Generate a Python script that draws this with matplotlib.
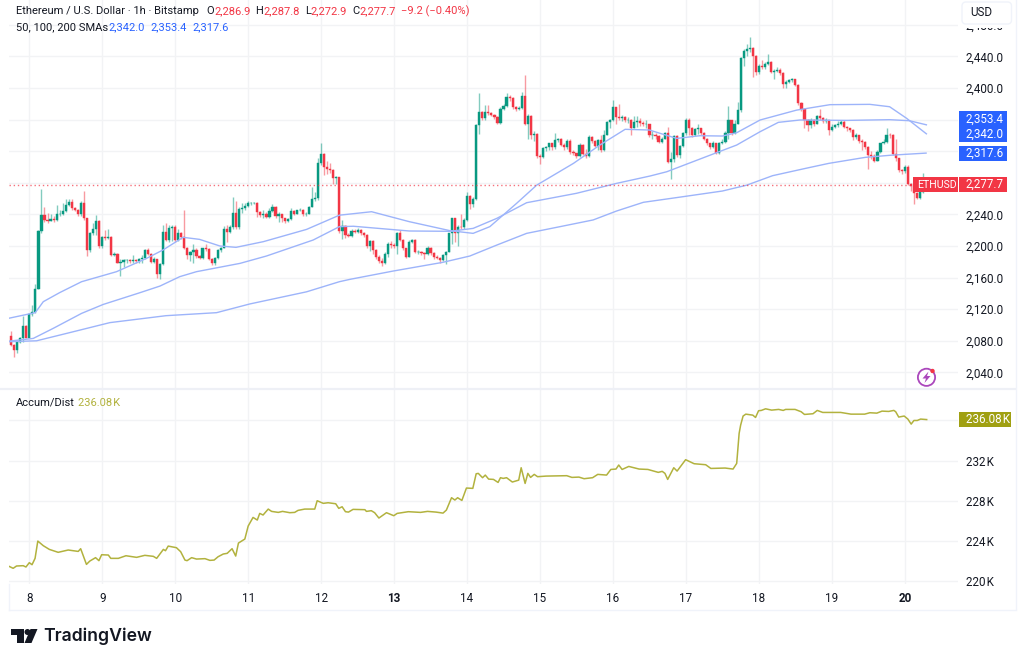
import numpy as np
import matplotlib
matplotlib.use('Agg')
import matplotlib.pyplot as plt
from matplotlib.patches import Rectangle, FancyBboxPatch, Circle, Polygon
from matplotlib.ticker import FuncFormatter

plt.rcParams['font.family'] = ['Roboto', 'DejaVu Sans']

# hourly bars, hour 0 is the start of day 8
first_open = 2086.5
closes = [2075, 2068, 2079, 2083, 2099, 2084,
    2114, 2116, 2145, 2219, 2239, 2233, 2232, 2234, 2233, 2240,
    2240, 2244, 2252, 2256, 2248, 2246, 2240, 2255, 2235, 2195,
    2216, 2222, 2232, 2200, 2212, 2210, 2212, 2189, 2190, 2179,
    2180, 2182, 2182, 2181, 2182, 2181, 2183, 2185, 2195, 2190,
    2180, 2183, 2165, 2177, 2218, 2207, 2223, 2224, 2207, 2216,
    2212, 2198, 2188, 2192, 2195, 2187, 2185, 2197, 2196, 2184,
    2178, 2185, 2195, 2198, 2222, 2218, 2224, 2242, 2224, 2247,
    2248, 2251, 2255, 2255, 2255, 2243, 2239, 2241, 2237, 2244,
    2250, 2238, 2240, 2235, 2232, 2234, 2244, 2241, 2245, 2246,
    2241, 2241, 2250, 2259, 2261, 2305, 2316.5, 2300, 2298, 2296,
    2286, 2287, 2219, 2225, 2214, 2213, 2219, 2218, 2220, 2217,
    2214.5, 2200, 2206, 2195, 2186.5, 2181, 2178, 2190, 2203, 2201,
    2200, 2216, 2208, 2197, 2186.5, 2205.5, 2207.6, 2193, 2193, 2191.5,
    2190, 2198, 2190.7, 2186.5, 2184.4, 2182, 2188.6, 2193, 2216, 2235,
    2216, 2224.5, 2224, 2233, 2263, 2253, 2260, 2353, 2370, 2361.6,
    2370, 2368, 2366, 2363, 2356, 2374, 2377, 2388, 2387, 2375.5,
    2374, 2375, 2390, 2355, 2365, 2340, 2342, 2314, 2313, 2323.6,
    2325, 2330, 2325, 2334, 2335.4, 2328, 2325, 2333, 2319.4, 2317.3,
    2314, 2328, 2317, 2314, 2338.4, 2333, 2326.6, 2334, 2321.5, 2340.5,
    2357, 2359.5, 2375.5, 2363.7, 2361.6, 2363, 2359.5, 2360, 2350, 2357,
    2358, 2356, 2354, 2354, 2340.5, 2341, 2339, 2332, 2336, 2342.6,
    2306.7, 2309.7, 2339, 2315, 2326, 2342.6, 2360, 2350, 2340, 2347.6,
    2349, 2342.6, 2336, 2330, 2325, 2330, 2318, 2330, 2332, 2342.6,
    2359.5, 2342.6, 2355, 2372, 2437.5, 2447, 2449, 2451, 2440.5, 2420.6,
    2427.8, 2426, 2431, 2433, 2420.6, 2422, 2423, 2418.5, 2405, 2408,
    2410, 2411, 2403.8, 2380.6, 2374, 2359.5, 2353, 2359.5, 2355, 2364.5,
    2361.6, 2358.6, 2359, 2346.8, 2351, 2353, 2355, 2357.4, 2351, 2349,
    2346.8, 2338.4, 2340.5, 2333.3, 2332, 2325.7, 2315, 2313.9, 2308, 2319.4,
    2330, 2332, 2341, 2340, 2317, 2311, 2296, 2295, 2300.4, 2279,
    2276, 2266.6, 2261, 2268.7, 2282, 2277.7]
highs = [2092, 2076, 2081, 2085, 2112, 2100,
    2115, 2125, 2152, 2220, 2272, 2250, 2242, 2241, 2238, 2252,
    2246, 2254, 2260, 2259, 2259, 2250, 2247, 2257, 2270, 2236,
    2218, 2229, 2239, 2233, 2213, 2220, 2222, 2213, 2193, 2191,
    2183, 2183, 2184, 2184, 2189, 2184, 2185, 2188, 2196, 2197,
    2191, 2186, 2184, 2178, 2226, 2229, 2226, 2226, 2226, 2221,
    2218, 2245, 2199, 2194, 2203, 2197, 2189, 2198, 2203, 2197,
    2185, 2186, 2196, 2199, 2225, 2226, 2226, 2262, 2257, 2250,
    2254, 2254, 2257, 2256, 2256, 2256, 2244, 2245, 2243, 2248,
    2253, 2251, 2243, 2241, 2236, 2235, 2248, 2245, 2246, 2248,
    2247, 2243, 2251, 2275, 2268, 2311, 2330, 2318, 2307, 2305,
    2297, 2289, 2287, 2233, 2226, 2216, 2221, 2222, 2223, 2221,
    2218, 2215, 2208, 2208, 2196, 2188, 2185, 2192, 2205, 2206,
    2204, 2218, 2220, 2209, 2198, 2208, 2209, 2209, 2195, 2194,
    2192, 2200, 2199, 2192, 2188, 2186, 2190, 2194, 2217, 2236,
    2236, 2226, 2241, 2236, 2268, 2264, 2262, 2355, 2394, 2371,
    2378, 2378, 2369, 2367, 2364, 2376, 2380, 2394, 2391, 2388,
    2377, 2377, 2395, 2416, 2367, 2366, 2345, 2343, 2316, 2325,
    2327, 2331, 2331, 2343, 2337, 2337, 2330, 2335, 2336, 2322,
    2318, 2330, 2329, 2323, 2340, 2339, 2334, 2336, 2341, 2347,
    2358, 2361, 2385, 2376, 2380, 2366, 2364, 2363, 2361, 2364,
    2364, 2362, 2358, 2360, 2355, 2345, 2343, 2340, 2338, 2344,
    2351, 2319, 2341, 2340, 2328, 2344, 2362, 2362, 2351, 2349,
    2354.4, 2350, 2344, 2337, 2331, 2333, 2331, 2332, 2335, 2346,
    2377, 2360, 2360, 2382.7, 2439, 2450, 2456, 2465, 2452, 2442,
    2430, 2435, 2433, 2442.6, 2434, 2424, 2426, 2425, 2420, 2410,
    2412, 2413, 2412, 2405, 2382, 2375, 2361, 2362, 2361, 2366,
    2374, 2363, 2362, 2360, 2354, 2355, 2358, 2359, 2359, 2352,
    2350, 2348, 2343, 2341, 2335, 2333, 2327, 2320, 2316, 2321,
    2331, 2335, 2349.8, 2343, 2342, 2336, 2312, 2298, 2303, 2302,
    2280, 2277, 2268, 2270, 2293, 2287.8]
lows = [2073, 2060, 2064, 2077, 2078, 2083,
    2083, 2112, 2115, 2145, 2216, 2231, 2229, 2232, 2230, 2232,
    2238, 2239, 2243, 2251, 2245, 2244, 2238, 2238, 2233, 2187,
    2193, 2214, 2214, 2198, 2198, 2208, 2209, 2187, 2187, 2178,
    2162, 2174, 2178, 2179, 2178, 2179, 2179, 2179, 2183, 2188,
    2178, 2178, 2159, 2158, 2176, 2206, 2205, 2206, 2205, 2206,
    2209, 2196, 2184, 2181, 2178, 2185, 2183, 2184, 2194, 2182,
    2176, 2176, 2184, 2193, 2197, 2205, 2216, 2222, 2222, 2222,
    2242, 2245, 2249, 2252, 2253, 2237, 2237, 2236, 2235, 2236,
    2243, 2236, 2231, 2231, 2229, 2231, 2233, 2239, 2240, 2244,
    2238, 2238, 2240, 2249, 2257, 2258, 2303, 2290, 2291, 2292,
    2278, 2278, 2216, 2209, 2210, 2211, 2212, 2216, 2216, 2214,
    2212, 2198, 2194, 2190, 2184, 2178, 2175, 2177, 2186, 2198,
    2198, 2190, 2206, 2195, 2185, 2186, 2204, 2191, 2190, 2189,
    2183, 2189, 2189, 2184, 2183, 2179, 2181, 2177, 2192, 2202,
    2205, 2200, 2222, 2222, 2232, 2247, 2250, 2258, 2342, 2360,
    2360, 2366, 2364, 2361, 2355, 2355, 2372, 2376, 2384, 2374,
    2371, 2372, 2373, 2353, 2336, 2335, 2333, 2312, 2304, 2311,
    2320, 2322, 2322, 2323, 2332, 2326, 2322, 2323, 2317, 2315,
    2311, 2313, 2315, 2312, 2313, 2331, 2325, 2322, 2319, 2320,
    2340, 2350, 2358, 2355, 2360, 2358, 2357, 2356, 2341, 2349,
    2351, 2352, 2352, 2350, 2338, 2336, 2336, 2330, 2330, 2335,
    2305, 2285, 2306, 2313, 2312, 2325, 2341, 2340, 2338, 2339,
    2342, 2341, 2334, 2328, 2323, 2324, 2316, 2317, 2329, 2331,
    2336, 2340, 2342, 2354, 2370, 2428, 2440, 2445, 2414, 2416,
    2418, 2424, 2424, 2429, 2419, 2411, 2420, 2417, 2400, 2399.5,
    2406, 2407, 2402, 2379, 2371, 2350, 2345, 2350, 2352, 2354,
    2360, 2356, 2356, 2340.5, 2345, 2349, 2351, 2353, 2349, 2345,
    2344, 2334, 2335, 2331, 2322, 2323, 2298, 2310, 2306, 2307,
    2318, 2329, 2331, 2337, 2315, 2307, 2294, 2291, 2293, 2277,
    2270, 2253, 2259, 2260, 2267, 2272.9]

# moving averages at their bends
sma50_hours = [-6.9, 1.9, 3, 4.6, 10, 17.2, 28.7, 38.6, 44, 50.6, 56, 62.7, 68, 77, 91.2, 102, 112.6, 125,
    138.4, 146, 151.5, 160.3, 166.9, 179, 187.7, 196, 204, 207.5, 213, 220.6, 228, 232.7,
    240.4, 252.4, 263.4, 276.5, 283, 288.6, 295.1]
sma50_values = [2108.4, 2115.6, 2121, 2129.5, 2141, 2154.8, 2167.5, 2184.4, 2195, 2211, 2208.4, 2200, 2198.3, 2205.5, 2221, 2239, 2243.4, 2230.8,
    2219.4, 2216, 2224.5, 2254, 2277, 2304.6, 2327.8, 2347.7, 2346.8, 2342.6, 2336.2, 2339.6, 2339.2, 2343.4,
    2359.5, 2372, 2378.9, 2379.3, 2376.3, 2361.6, 2342]
sma100_hours = [-6.4, 1.3, 7.9, 17.2, 24.3, 36.4, 43, 49.5, 55, 69.3, 78, 93.4, 102, 106.6, 125,
    138.4, 146, 153.8, 163.6, 180, 193.2, 204.2, 209.7, 226, 232.7, 240.4, 246.4, 253.5, 268.9, 283, 289.5, 295.1]
sma100_values = [2079.7, 2083, 2095.8, 2114.7, 2126, 2140.9, 2149.3, 2161.2, 2167.5, 2178, 2187.3, 2207.6, 2224.5, 2225, 2219,
    2218.6, 2222.3, 2235, 2254.8, 2266.7, 2279.3, 2288.6, 2294, 2318, 2327.8, 2344.7, 2356.5, 2359.5, 2359, 2359.9, 2358.6, 2353.4]
sma200_hours = [-6.4, 2.4, 12.3, 26.5, 45, 61.6, 72.5, 91.2, 102, 105.5, 119.7, 136, 144.9, 153.8, 163.6,
    174.6, 185.5, 193.2, 202, 215, 228, 236, 244.5, 255.4, 263, 275, 283.7, 295]
sma200_values = [2078.9, 2080, 2089.4, 2103, 2111.8, 2115.6, 2126.6, 2142, 2154.8, 2157.8, 2168.3, 2179.3, 2187.3, 2201.2, 2216,
    2224.5, 2233, 2244.3, 2255.3, 2262.4, 2269.6, 2277, 2289, 2298.3, 2304.6, 2312.2, 2315, 2317.6]

# accumulation/distribution in thousands
ad_hours = [-6.9, -5.3, -4.2, -2, -1.1, 0, .9, 1.9, 2.8, 4.6, 6.6, 9.5, 12.8, 16.1, 16.9, 18.8, 19.9, 21.8, 22.9, 23.8,
    26, 26.8, 29.3, 31.8, 35.3, 38, 40.8, 41.9, 44.1, 44.8, 45.7, 48.4, 49.8, 51.2, 51.9, 53.4, 55, 57.8, 59.4, 60.8,
    62.1, 63.8, 65.1, 66.7, 67.9, 68.8, 70.9, 72, 73.6, 75, 75.8, 76.9, 78.6, 79.7, 81.9, 83.3, 85.7, 87.3, 88.4, 90.6,
    93.9, 94.7, 96.7, 98.3, 100.8, 101.8, 102.9, 104, 105, 106.5, 110.4, 110.9, 112.5, 113.6, 115, 117.5, 119.9, 121,
    124.7, 128.7, 131, 133.8, 136.1, 137.2, 138.9, 140, 140.9, 142.3, 143.8, 145.9, 147, 147.7, 149.1, 150, 151.1, 152.7,
    154.2, 155, 155.9, 157, 158.9, 161, 161.8, 163.1, 164, 164.9, 166.1, 167.2, 170, 176.8, 178.5, 180.8, 182.5, 185.3,
    187, 189.9, 191.3, 193, 193.9, 195, 197.2, 200.6, 203.5, 206.9, 208.2, 209.1, 210, 212, 213.1, 215.9, 218.7, 222.5,
    224.2, 228.9, 231.5, 232.7, 233.5, 234, 234.8, 235.7, 238, 238.9, 239.9, 240.8, 242.2, 244.2, 246.5, 248, 248.8, 251.9,
    253.9, 255, 257.8, 259.2, 261, 266.9, 270.3, 274.8, 276.5, 278.8, 280.5, 282.7, 284.4, 285, 286, 287.8, 289, 290.1,
    291, 292.1, 293.2, 295.2]
ad_values = [221.52, 221.29, 221.52, 221.55, 221.42, 221.85, 221.65, 222.28, 224.0, 223.54, 223.17, 222.88, 223.11, 222.97, 223.24, 221.68, 222.01, 222.35, 222.05, 222.64,
    222.61, 222.28, 222.28, 222.54, 222.38, 222.58, 222.48, 222.28, 223.17, 223.04, 223.5, 223.34, 222.94, 222.11, 222.05, 222.35, 222.21, 222.25, 222.08, 222.11,
    222.44, 222.71, 222.78, 223.24, 222.51, 223.8, 224.2, 225.49, 226.35, 226.09, 226.75, 226.59, 227.18, 226.95, 226.85, 226.95, 226.82, 226.85, 227.05, 227.18,
    227.18, 228.01, 227.75, 227.81, 227.71, 227.25, 227.41, 226.92, 226.88, 227.15, 227.12, 226.95, 227.02, 226.82, 226.29, 226.82, 226.52, 226.75,
    226.92, 226.85, 226.95, 226.88, 226.78, 227.08, 228.31, 228.08, 228.31, 228.04, 229.27, 229.24, 230.69, 230.73, 230.3, 230.56, 230.16, 230.13,
    229.83, 230.3, 230.23, 230.3, 229.87, 230.06, 231.29, 229.73, 230.73, 230.33, 230.63, 230.4, 230.46, 230.5, 230.33, 230.36, 230.2, 230.3,
    230.63, 230.56, 231.12, 231.16, 231.56, 231.12, 231.42, 231.16, 231.12, 230.83, 230.93, 230.73, 230.13, 231.29, 230.96, 232.09, 231.69, 231.59,
    231.22, 231.26, 231.16, 231.72, 234.7, 235.53, 236.43, 236.62, 236.52, 236.29, 236.96, 236.99, 237.15, 237.02, 237.09, 236.99, 237.09, 237.09,
    236.86, 236.59, 236.66, 236.99, 236.79, 236.79, 236.62, 236.62, 236.76, 236.72, 236.92, 236.89, 236.99, 236.86, 236.33, 236.43, 236.13, 235.63,
    235.99, 235.99, 236.13, 236.08]

price_ticks = [2040, 2080, 2120, 2160, 2200, 2240, 2280, 2320, 2360, 2400, 2440, 2480]
hidden_price_ticks = [2280, 2320, 2360]  # sit behind the last value labels
ad_ticks = [220, 224, 228, 232, 236]
day_labels = [8, 9, 10, 11, 12, 13, 14, 15, 16, 17, 18, 19, 20]
day_hours = [0, 24, 48, 72, 96, 120, 144, 168, 192, 216, 240, 264, 288]

GREEN = '#089981'
RED = '#F23645'
BLUE = '#2962FF'
SMA_LINE = '#9DB4FA'
OLIVE = '#A0A012'
AD_LINE = '#B2B23E'
GRID = '#F2F3F5'
TEXT = '#131722'
FONT_SIZE = 8.4
HEAD_SIZE = 8.0
W, H = 1024, 663


def axes_px(x0, y0, x1, y1):
    return fig.add_axes([x0 / W, 1 - y1 / H, (x1 - x0) / W, (y1 - y0) / H])


def style_pane(ax):
    ax.set_xlim(-6.84, 305.5)
    ax.yaxis.tick_right()
    ax.grid(True, color=GRID, linewidth=1)
    ax.set_axisbelow(True)
    ax.tick_params(length=0, labelsize=FONT_SIZE, labelcolor=TEXT, pad=5.5)
    for spine in ax.spines.values():
        spine.set_visible(False)


def price_label(v, p):
    return '' if v in hidden_price_ticks else '{:,.1f}'.format(v)


def ad_label(v, p):
    return '' if v == 236 else '{:.0f}\u200aK'.format(v)


fig = plt.figure(figsize=(W / 100, H / 100), dpi=100, facecolor='white')

# price pane
ax1 = axes_px(8.5, 0, 958, 388)
style_pane(ax1)
ax1.set_ylim(2020.25, 2511.4)
ax1.set_yticks(price_ticks)
ax1.yaxis.set_major_formatter(FuncFormatter(price_label))
ax1.set_xticks(day_hours)
ax1.set_xticklabels([])
for lab in ax1.get_yticklabels():
    lab.set_va('center_baseline')

hours = np.arange(-6, -6 + len(closes))
closes_arr = np.array(closes, dtype=float)
opens_arr = np.concatenate([[first_open], closes_arr[:-1]])
up = closes_arr >= opens_arr
colors = [GREEN if u else RED for u in up]
ax1.vlines(hours, lows, highs, colors=colors, linewidth=1, alpha=0.5, zorder=2)
ax1.bar(hours, np.abs(closes_arr - opens_arr), bottom=np.minimum(opens_arr, closes_arr), width=0.72,
        color=colors, edgecolor=colors, linewidth=0.3, zorder=3)

ax1.plot(sma50_hours, sma50_values, color=SMA_LINE, linewidth=1, zorder=4)
ax1.plot(sma100_hours, sma100_values, color=SMA_LINE, linewidth=1, zorder=4)
ax1.plot(sma200_hours, sma200_values, color=SMA_LINE, linewidth=1, zorder=4)
ax1.axhline(closes[-1], color=RED, linewidth=1, linestyle=(0, (1, 2)), alpha=0.7, zorder=4)

# accumulation pane
ax2 = axes_px(8.5, 389, 958, 584)
style_pane(ax2)
ax2.set_ylim(219.73, 239.12)
ax2.set_yticks(ad_ticks)
ax2.yaxis.set_major_formatter(FuncFormatter(ad_label))
ax2.set_xticks(day_hours)
ax2.set_xticklabels(day_labels)
ax2.tick_params(axis='x', pad=5.5)
for lab, day in zip(ax2.get_xticklabels(), day_labels):
    if day in (13, 20):
        lab.set_fontweight('bold')
ax2.plot(ad_hours, ad_values, color=AD_LINE, linewidth=1.1, zorder=4)

# overlay for the chrome, in image pixels
ov = fig.add_axes([0, 0, 1, 1], facecolor='none')
ov.set_xlim(0, W)
ov.set_ylim(H, 0)
ov.axis('off')


def label_box(x0, y0, x1, y1, color):
    ov.add_patch(Rectangle((x0, y0), x1 - x0, y1 - y0, facecolor=color, edgecolor='none', zorder=5))


def txt(x, y, s, color=TEXT, size=HEAD_SIZE):
    ov.text(x, y, s, color=color, fontsize=size, va='center', zorder=6)


# frame lines
ov.plot([0, 1015], [388.5, 388.5], color='#EEF0F6', linewidth=1.6, zorder=1)
ov.plot([1015.5, 1015.5], [0, 609], color='#F0F3FA', linewidth=1, zorder=1)
ov.plot([8.5, 1015.5], [609.5, 609.5], color='#F0F3FA', linewidth=1, zorder=1)
ov.plot([8.5, 8.5], [584, 609.5], color='#F0F3FA', linewidth=1, zorder=1)

# header
txt(16, 11, 'Ethereum / U.S. Dollar \u00b7 1h \u00b7 Bitstamp')
txt(206, 11, 'O')
txt(214, 11, '2,286.9', RED)
txt(255.5, 11, 'H')
txt(263, 11, '2,287.8', RED)
txt(305, 11, 'L')
txt(310.5, 11, '2,272.9', RED)
txt(352, 11, 'C')
txt(359, 11, '2,277.7', RED)
txt(401, 11, '\u22129.2 (\u22120.40%)', RED)
txt(16, 27, '50, 100, 200 SMAs')
txt(108, 27, '2,342.0', BLUE)
txt(150, 27, '2,353.4', BLUE)
txt(192, 27, '2,317.6', BLUE)
txt(16, 403, 'Accum/Dist')
txt(78, 403, '236.08\u200aK', AD_LINE)

# currency button, it hides most of the top tick label
ov.add_patch(Rectangle((959, 0), 55, 28, facecolor='white', edgecolor='none', zorder=4.9))
ov.add_patch(FancyBboxPatch((962, 2), 49.5, 22, boxstyle='round,pad=0,rounding_size=4', facecolor='white',
                            edgecolor='#F0F3FA', linewidth=1, zorder=5))
txt(970, 13, 'USD', size=FONT_SIZE)

# last value labels
label_box(959, 111, 1007, 141.7, BLUE)
txt(966, 119, '2,353.4', 'white', FONT_SIZE)
txt(966, 134, '2,342.0', 'white', FONT_SIZE)
label_box(959, 146, 1007, 161, BLUE)
txt(966, 153.5, '2,317.6', 'white', FONT_SIZE)
label_box(913, 177, 958, 192, RED)
txt(917.5, 184.5, 'ETHUSD', 'white', 7.6)
label_box(959, 177, 1007, 192, RED)
txt(966, 184.5, '2,277.7', 'white', FONT_SIZE)
label_box(959, 412, 1011, 426.7, OLIVE)
txt(966, 419.5, '236.08\u200aK', 'white', FONT_SIZE)

# bolt badge
ov.add_patch(Circle((926.5, 377.3), 8.6, facecolor='white', edgecolor='#AB47BC', linewidth=1.3, zorder=5))
ov.add_patch(Polygon([[928.5, 371.5], [922.5, 378.5], [926, 378.5], [924.5, 383], [930.5, 376], [927, 376]],
                     facecolor='#AB47BC', edgecolor='none', zorder=6))
ov.add_patch(Circle((932.5, 371), 2.2, facecolor=RED, edgecolor='none', zorder=7))

# logo
logo = '#131722'
ov.add_patch(Polygon([[10.5, 629], [24, 629], [24, 643], [17, 643], [17, 635], [10.5, 635]], facecolor=logo, edgecolor='none'))
ov.add_patch(Circle((27.5, 632), 3, facecolor=logo, edgecolor='none'))
ov.add_patch(Polygon([[30.5, 629], [37.5, 629], [31.5, 643], [24.5, 643]], facecolor=logo, edgecolor='none'))
ov.text(43, 636, 'TradingView', color=logo, fontsize=12.7, fontweight='semibold', family='Inter', va='center')

fig.savefig('out.png', dpi=100)
